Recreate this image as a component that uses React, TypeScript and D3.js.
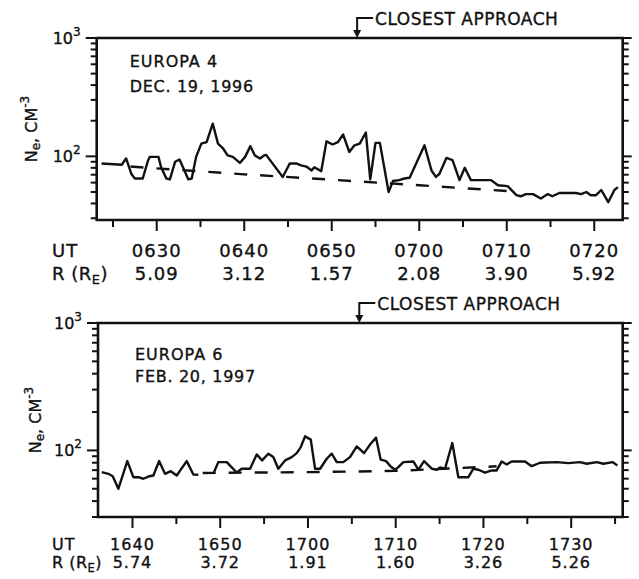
import React from 'react';
import * as d3 from 'd3';

// ---------- DATA ----------
// Europa 4 (Dec 19, 1996): time in minutes after 06:00 UT, electron density (cm^-3)
const e4Time = [23.7, 26.0, 26.5, 27.1, 27.5, 28.4, 29.0, 29.2, 30.2, 30.5, 31.1, 31.5, 32.1, 32.6, 33.0, 33.6, 34.0, 34.5, 35.1, 35.7, 36.4, 37.0, 37.6, 38.1, 38.7, 39.5, 40.1, 40.7, 41.2, 41.8, 42.3, 42.5, 44.4, 45.2, 46.0, 46.5, 47.1, 47.7, 48.0, 48.8, 49.4, 50.1, 50.7, 51.3, 52.0, 52.6, 53.2, 53.9, 54.4, 55.0, 55.5, 56.5, 57.0, 57.7, 58.3, 58.9, 60.6, 61.4, 61.9, 62.3, 63.1, 63.8, 64.6, 65.2, 65.9, 68.2, 69.0, 70.1, 71.1, 71.6, 72.2, 73.0, 73.9, 74.7, 75.2, 76.0, 77.9, 78.5, 79.1, 79.6, 80.2, 80.8, 81.6, 82.3, 82.7];
const e4Ne = [87, 85, 96, 71, 65, 65, 92, 99, 99, 81, 65, 64, 90, 94, 81, 64, 65, 99, 128, 132, 189, 128, 116, 102, 99, 88, 99, 122, 102, 96, 102, 103, 67, 87, 87, 84, 82, 76, 81, 75, 134, 126, 132, 153, 109, 124, 128, 159, 64, 130, 130, 50, 62, 63, 65, 66, 124, 76, 67, 71, 97, 93, 63, 80, 63, 63, 57, 56, 47, 46, 48, 48, 44, 48, 46, 49, 49, 48, 50, 47, 47, 52, 41, 52, 55];
const e4ModelTime = [27.0, 40, 50, 60, 70];
const e4ModelNe = [82, 70.5, 63.5, 57, 51];
const e4TickTimes = [30, 40, 50, 60, 70, 80];
const e4TickLabels = ['0630', '0640', '0650', '0700', '0710', '0720'];
const e4RLabels = ['5.09', '3.12', '1.57', '2.08', '3.90', '5.92'];
const e4Domain = [23.14, 83.25];
const e4Closest = 52.9;

// Europa 6 (Feb 20, 1997): time in minutes after 16:00 UT (null = data gap)
const e6Time = [36.5, 37.25, 37.75, 38.39, 39.41, 40.1, 40.67, 41.24, 41.92, 42.38, 43.03, 43.71, 44.36, 45.04, 46.18, 46.94, 47.5, 48.4,
  49.22, 49.78, 50.74, 51.88, 52.45, 53.4, 54.16, 54.77, 55.48, 56.05, 56.62, 57.39, 58.15, 58.72, 59.18, 59.67, 60.32, 60.81, 61.38, 62.14, 62.71, 63.28, 64.03, 64.79, 65.56, 66.39, 67.15, 67.76, 68.29, 68.9, 69.43, 69.92, 70.3, 70.87, 72.01, 72.58, 73.23, 74.11, 74.68, 75.05, 75.62, 76.45, 77.14, 78.28, 78.85, 79.42, 80.18, 80.94, 81.51, 82.08, 82.65, 83.22, 84.74, 85.5, 86.45, 88.35, 89.68, 91.01, 91.77, 92.91, 93.66, 94.74, 95.26];
const e6Ne = [67.5, 65.5, 62.7, 49.9, 82.4, 61.6, 61.6, 59.9, 62.7, 63.5, 82.4, 65.5, 68.7, 63.5, 82.4, 64.7, 64.4, null,
  65.5, 80.9, 80.9, 67.1, 71.8, 71.8, 93.0, 83.4, 94.2, 88.6, 71.8, 83.4, 88.6, 95.2, 106.2, 128.9, 121.4, 71.8, 71.8, 86.0, 94.2, 80.9, 80.9, 88.6, 107.5, 95.2, 112.9, 125.9, 84.5, 82.4, 74.8, 70.5, 73.9, 80.9, 81.9, 70.5, 82.4, 71.8, 70.5, 73.5, 71.8, 114.2, 61.6, 61.6, 71.8, 70.5, 66.8, 69.6, 69.6, 81.9, 77.6, 81.9, 81.9, 75.2, 80.0, 80.9, 79.4, 80.9, 78.6, 80.9, 78.6, 80.9, 76.2];
const e6ModelTime = [48.0, 60, 70, 76, 81.5];
const e6ModelNe = [66.5, 67.5, 69, 72, 75];
const e6TickTimes = [40, 50, 60, 70, 80, 90];
const e6TickLabels = ['1640', '1650', '1700', '1710', '1720', '1730'];
const e6RLabels = ['5.74', '3.72', '1.91', '1.60', '3.26', '5.26'];
const e6Domain = [36.07, 95.87];
const e6Closest = 65.85;

const yDomainTop = [29, 1000];
const yDomainBottom = [30, 1000];

// ---------- LAYOUT ----------
const FONT = "'DejaVu Sans', 'Liberation Sans', sans-serif";
const INK = '#111';
const TS = 0.35; // text stroke for heavier lettering

type PanelProps = {
  box: { left: number; right: number; top: number; bottom: number };
  xDomain: number[];
  yDomain: number[];
  time: number[];
  ne: (number | null)[];
  modelTime: number[];
  modelNe: number[];
  tickTimes: number[];
  tickLabels: string[];
  rLabels: string[];
  closest: number;
  title: string;
  date: string;
  titleDy: number;
  dateDy: number;
  titleDx: number;
  utDy: number;
  rDy: number;
  rowFont: number;
  yTitleX: number;
};

function Panel(p: PanelProps) {
  const { box } = p;
  const x = d3.scaleLinear().domain(p.xDomain).range([box.left, box.right]);
  const y = d3.scaleLog().domain(p.yDomain).range([box.bottom, box.top]);

  const pts = p.time.map((t, i) => ({ t, v: p.ne[i] }));
  const line = d3
    .line<{ t: number; v: number | null }>()
    .defined((d) => d.v != null)
    .x((d) => x(d.t))
    .y((d) => y(d.v as number));
  const model = p.modelTime.map((t, i) => ({ t, v: p.modelNe[i] }));

  const yTicks = y.ticks();
  const minorX = d3.range(Math.ceil(p.xDomain[0] / 5) * 5, p.xDomain[1], 5).filter((t) => !p.tickTimes.includes(t));
  const cx = x(p.closest);
  const aTop = box.top - 20;
  const txt = { fontFamily: FONT, fill: INK, stroke: INK, strokeWidth: TS } as any;

  return (
    <g>
      {/* frame */}
      <path
        d={`M${box.left},${box.top}H${box.right}V${box.bottom}H${box.left}Z`}
        fill="none"
        stroke={INK}
        strokeWidth={2.6}
      />
      {/* y ticks left & right */}
      {yTicks.map((v, i) => {
        const major = Math.abs(Math.log10(v) - Math.round(Math.log10(v))) < 1e-6;
        const yy = y(v);
        return (
          <g key={'yt' + i}>
            <line x1={box.left - (major ? 11 : 6)} x2={box.left} y1={yy} y2={yy} stroke={INK} strokeWidth={2} />
            <line x1={box.right} x2={box.right + (major ? 9 : 6)} y1={yy} y2={yy} stroke={INK} strokeWidth={2} />
          </g>
        );
      })}
      {/* y tick labels */}
      {[100, 1000].map((v) => (
        <text key={'yl' + v} x={box.left - 16} y={y(v) + 6} fontSize={16} textAnchor="end" {...txt}>
          10
          <tspan fontSize={12} dy={-8}>
            {v === 1000 ? '3' : '2'}
          </tspan>
        </text>
      ))}
      {/* y title */}
      <text
        transform={`translate(${p.yTitleX},${(box.top + box.bottom) / 2}) rotate(-90)`}
        fontSize={16}
        textAnchor="middle"
        {...txt}
      >
        N
        <tspan fontSize={12} dy={3}>e</tspan>
        <tspan dy={-3}>, CM</tspan>
        <tspan fontSize={12} dy={-8}>-3</tspan>
      </text>
      {/* x ticks */}
      {p.tickTimes.map((t) => (
        <line key={'xt' + t} x1={x(t)} x2={x(t)} y1={box.bottom} y2={box.bottom + 11} stroke={INK} strokeWidth={2} />
      ))}
      {minorX.map((t) => (
        <line key={'xm' + t} x1={x(t)} x2={x(t)} y1={box.bottom} y2={box.bottom + 7} stroke={INK} strokeWidth={2} />
      ))}
      {/* x labels */}
      <text x={52} y={box.bottom + p.utDy} fontSize={p.rowFont} letterSpacing={1} {...txt}>
        UT
      </text>
      <text x={52} y={box.bottom + p.rDy} fontSize={p.rowFont} letterSpacing={0.5} {...txt}>
        R (R
        <tspan fontSize={p.rowFont * 0.72} dy={4}>E</tspan>
        <tspan dy={-4}>)</tspan>
      </text>
      {p.tickTimes.map((t, i) => (
        <g key={'lab' + t}>
          <text x={x(t)} y={box.bottom + p.utDy} fontSize={p.rowFont} textAnchor="middle" letterSpacing={1} {...txt}>
            {p.tickLabels[i]}
          </text>
          <text x={x(t)} y={box.bottom + p.rDy} fontSize={p.rowFont} textAnchor="middle" letterSpacing={1} {...txt}>
            {p.rLabels[i]}
          </text>
        </g>
      ))}
      {/* data */}
      <path d={line(model as any) || ''} fill="none" stroke={INK} strokeWidth={2.4} strokeDasharray="13,13" />
      <path d={line(pts) || ''} fill="none" stroke={INK} strokeWidth={2.4} strokeLinejoin="round" />
      {/* annotation */}
      <text x={box.left + p.titleDx} y={box.top + p.titleDy} fontSize={16} letterSpacing={1} {...txt}>
        {p.title}
      </text>
      <text x={box.left + p.titleDx} y={box.top + p.dateDy} fontSize={16} letterSpacing={0.7} {...txt}>
        {p.date}
      </text>
      {/* closest approach */}
      <path d={`M${cx + 16},${aTop}H${cx}V${box.top - 6}`} fill="none" stroke={INK} strokeWidth={2} />
      <path d={`M${cx - 4},${box.top - 8}L${cx + 4},${box.top - 8}L${cx},${box.top}Z`} fill={INK} />
      <text x={cx + 18} y={aTop + 7} fontSize={17} letterSpacing={0.5} {...txt}>
        CLOSEST APPROACH
      </text>
    </g>
  );
}

export default function App() {
  return (
    <svg
      width={639}
      height={579}
      viewBox="0 0 639 579"
      style={{ position: 'absolute', left: 0, top: 0, background: '#fff' }}
    >
      <rect x={0} y={0} width={639} height={579} fill="#fff" />
      <Panel
        box={{ left: 96.7, right: 622.7, top: 38, bottom: 220 }}
        xDomain={e4Domain}
        yDomain={yDomainTop}
        time={e4Time}
        ne={e4Ne}
        modelTime={e4ModelTime}
        modelNe={e4ModelNe}
        tickTimes={e4TickTimes}
        tickLabels={e4TickLabels}
        rLabels={e4RLabels}
        closest={e4Closest}
        title="EUROPA 4"
        date="DEC. 19, 1996"
        titleDx={33}
        titleDy={29}
        dateDy={54}
        utDy={37}
        rDy={60}
        rowFont={18}
        yTitleX={37}
      />
      <Panel
        box={{ left: 98, right: 622.7, top: 323, bottom: 517 }}
        xDomain={e6Domain}
        yDomain={yDomainBottom}
        time={e6Time}
        ne={e6Ne}
        modelTime={e6ModelTime}
        modelNe={e6ModelNe}
        tickTimes={e6TickTimes}
        tickLabels={e6TickLabels}
        rLabels={e6RLabels}
        closest={e6Closest}
        title="EUROPA 6"
        date="FEB. 20, 1997"
        titleDx={37}
        titleDy={37}
        dateDy={59}
        utDy={33}
        rDy={51}
        rowFont={16}
        yTitleX={41}
      />
    </svg>
  );
}
